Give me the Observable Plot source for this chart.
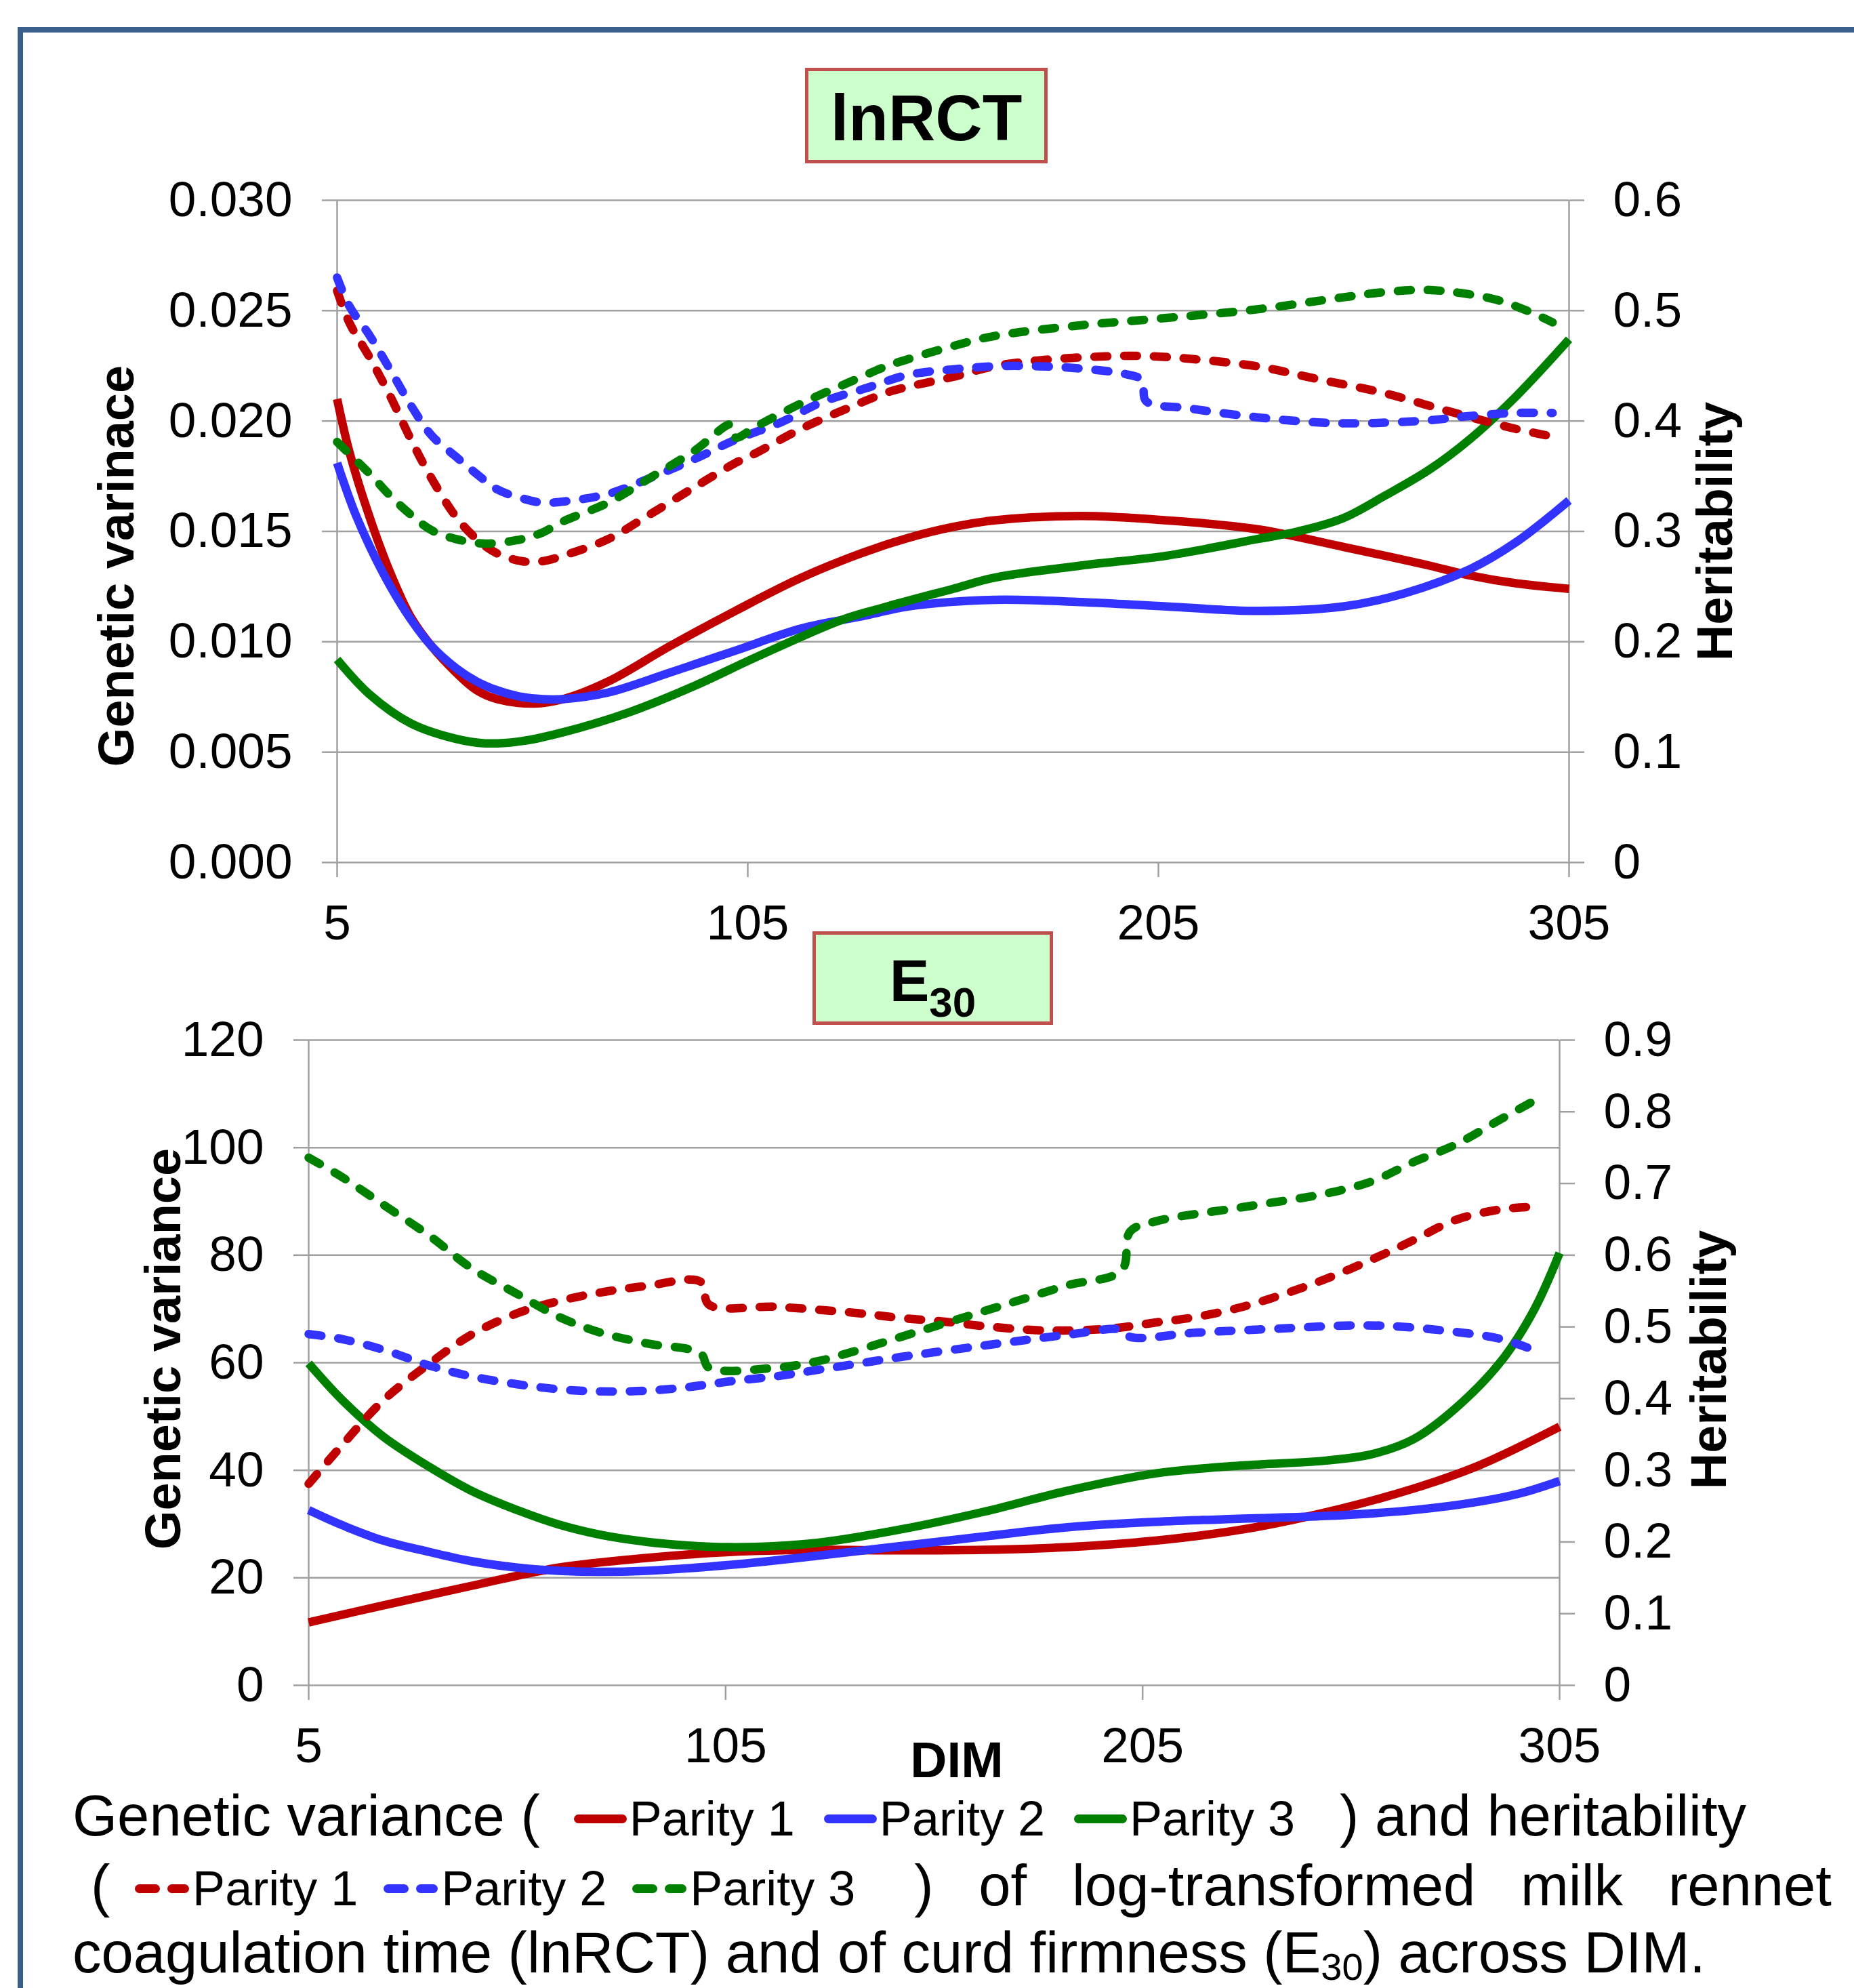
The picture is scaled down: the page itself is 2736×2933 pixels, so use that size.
<!DOCTYPE html>
<html>
<head>
<meta charset="utf-8">
<script src="https://cdn.jsdelivr.net/npm/d3@7"></script>
<script src="https://cdn.jsdelivr.net/npm/@observablehq/plot@0.6"></script>
<style>
html,body{margin:0;padding:0;background:#fff;}
body{width:2736px;height:2933px;position:relative;overflow:hidden;font-family:"Liberation Sans",Arial,sans-serif;color:#000;}
.frame{position:absolute;left:26px;top:40px;width:3000px;height:3000px;border-top:8px solid #3A5F8C;border-left:8px solid #3A5F8C;}
.tbox{position:absolute;box-sizing:border-box;border:5px solid #C0504D;background:#CCFFCC;z-index:2;}
.tbox .t{position:absolute;left:0;right:0;text-align:center;font-weight:bold;white-space:nowrap;}
.cap{position:absolute;font-size:85px;line-height:85px;white-space:nowrap;z-index:2;}
.lt{font-size:72px;}
.sw{vertical-align:18px;}
.dim{position:absolute;left:1212px;width:400px;top:2559px;text-align:center;font-weight:bold;font-size:75px;line-height:75px;z-index:2;}
</style>
</head>
<body>
<div class="frame"></div>
<div class="tbox" style="left:1188px;top:100px;width:358px;height:141px;"><div class="t" style="top:21px;font-size:96px;line-height:96px;">lnRCT</div></div>
<div class="tbox" style="left:1199px;top:1374px;width:355px;height:138px;"><div class="t" style="top:24px;font-size:88px;line-height:88px;">E<span style="font-size:62px;position:relative;top:23px;">30</span></div></div>
<div class="dim">DIM</div>
<div class="cap" id="cap1" style="left:107px;top:2636px;"></div>
<div class="cap" id="cap2" style="left:134px;top:2739px;width:2569px;display:flex;justify-content:space-between;align-items:baseline;"></div>
<div class="cap" id="cap3" style="left:107px;top:2838px;">coagulation time (lnRCT) and of curd firmness (E<sub style="font-size:56px;line-height:0;vertical-align:-11px;">30</sub>) across DIM.</div>
<script>
// ---------- data ----------
const dimTicks = [5, 105, 205, 305];
const rctGvTicks = [0, 0.005, 0.010, 0.015, 0.020, 0.025, 0.030];
const rctHTicks = [0, 0.1, 0.2, 0.3, 0.4, 0.5, 0.6];
const e30GvTicks = [0, 20, 40, 60, 80, 100, 120];
const e30HTicks = [0, 0.1, 0.2, 0.3, 0.4, 0.5, 0.6, 0.7, 0.8, 0.9];
const parities = ["Parity 1", "Parity 2", "Parity 3"];

// lnRCT genetic variance [DIM, value]
const rctGV1 = [[5,0.0210],[8,0.0186],[13,0.0156],[18,0.0131],[23,0.0111],[28,0.0098],[34,0.0086],[39,0.0078],[44,0.0074],[53,0.0072],[60,0.0074],[71,0.0082],[86,0.0098],[102,0.0114],[118,0.0129],[134,0.0141],[144,0.0147],[155,0.0152],[165,0.0155],[186,0.0157],[207,0.0155],[229,0.0151],[250,0.0143],[271,0.01345],[281,0.0130],[292,0.01265],[305,0.0124]];
const rctGV2 = [[5,0.0181],[9,0.0160],[13,0.0143],[18,0.0125],[23,0.0110],[28,0.0098],[34,0.0088],[39,0.0082],[44,0.0078],[50,0.0075],[55,0.0074],[60,0.0074],[71,0.0077],[86,0.0086],[102,0.0096],[118,0.0106],[134,0.0112],[144,0.0116],[165,0.0119],[186,0.0118],[207,0.0116],[229,0.0114],[250,0.0116],[265,0.0122],[281,0.0133],[292,0.0145],[305,0.0164]];
const rctGV3 = [[5,0.0092],[13,0.0076],[23,0.0063],[34,0.0056],[41,0.0054],[50,0.0055],[60,0.0059],[76,0.0068],[92,0.0080],[107,0.0093],[128,0.0110],[139,0.0116],[155,0.0124],[165,0.0129],[186,0.01345],[207,0.0139],[229,0.01465],[239,0.0150],[250,0.0156],[260,0.0166],[271,0.0178],[281,0.0192],[292,0.0211],[305,0.0237]];
// lnRCT heritability
const rctH1 = [[5,0.518],[8,0.489],[13,0.457],[18,0.422],[23,0.383],[28,0.348],[34,0.313],[39,0.293],[44,0.280],[50,0.273],[55,0.273],[60,0.278],[71,0.293],[81,0.315],[92,0.340],[102,0.362],[107,0.371],[118,0.393],[129,0.411],[139,0.426],[144,0.431],[155,0.440],[165,0.4496],[176,0.455],[192,0.4586],[201,0.459],[212,0.4566],[229,0.4496],[244,0.4378],[260,0.4253],[276,0.4085],[292,0.3929],[301,0.386]];
const rctH2 = [[5,0.530],[8,0.504],[13,0.477],[18,0.446],[23,0.414],[28,0.387],[34,0.3675],[39,0.352],[44,0.338],[50,0.330],[55,0.326],[60,0.327],[71,0.334],[81,0.348],[92,0.3655],[102,0.383],[113,0.3987],[123,0.417],[134,0.430],[144,0.4418],[155,0.4468],[165,0.4496],[176,0.4496],[186,0.4476],[197,0.4425],[201,0.437],[202,0.418],[212,0.4117],[229,0.4034],[244,0.3987],[255,0.398],[271,0.4007],[281,0.4046],[292,0.4073],[301,0.4073]];
const rctH3 = [[5,0.381],[13,0.352],[18,0.332],[23,0.315],[28,0.301],[34,0.293],[41,0.289],[50,0.293],[55,0.299],[60,0.309],[71,0.326],[81,0.348],[92,0.373],[101,0.397],[102,0.385],[107,0.395],[118,0.416],[129,0.434],[139,0.450],[144,0.456],[155,0.468],[165,0.477],[186,0.4867],[207,0.4934],[229,0.5012],[250,0.5121],[260,0.5168],[269,0.5188],[276,0.5172],[287,0.5102],[295,0.4996],[301,0.4894]];
// E30 genetic variance
const e30GV1 = [[5,11.7],[23,14.9],[44,18.5],[65,21.9],[86,23.7],[106,24.8],[127,25.2],[146,25.1],[167,25.2],[187,25.7],[208,26.9],[229,29.0],[249,32.2],[270,36.6],[286,41.0],[305,48.1]];
const e30GV2 = [[5,32.6],[13,29.8],[23,26.9],[34,24.8],[44,23.1],[55,21.9],[65,21.3],[75,21.1],[86,21.3],[106,22.4],[127,24.1],[147,25.9],[167,27.7],[187,29.4],[208,30.4],[229,31.0],[249,31.5],[270,32.6],[286,34.2],[296,35.8],[305,38.0]];
const e30GV3 = [[5,59.9],[13,53.1],[23,46.2],[34,40.6],[44,36.2],[55,32.6],[65,29.9],[75,28.0],[86,26.7],[96,26.0],[106,25.7],[117,25.9],[127,26.5],[147,29.0],[167,32.3],[187,36.2],[208,39.4],[229,40.9],[249,41.8],[260,43.0],[270,45.8],[280,51.5],[291,60.3],[299,70.0],[305,80.4]];
// E30 heritability
const e30H1 = [[5,0.281],[13,0.335],[23,0.398],[34,0.449],[44,0.489],[55,0.519],[65,0.536],[75,0.548],[86,0.557],[99,0.563],[101,0.531],[117,0.528],[137,0.519],[146,0.513],[158,0.507],[167,0.501],[182,0.495],[198,0.498],[208,0.506],[218,0.514],[229,0.528],[239,0.546],[249,0.567],[260,0.594],[270,0.621],[280,0.649],[291,0.664],[301,0.668]];
const e30H2 = [[5,0.490],[13,0.483],[23,0.468],[34,0.446],[44,0.431],[55,0.420],[65,0.413],[75,0.410],[86,0.411],[96,0.416],[106,0.424],[117,0.431],[127,0.440],[137,0.449],[147,0.458],[167,0.474],[187,0.489],[200,0.496],[202,0.486],[218,0.492],[239,0.498],[255,0.502],[265,0.501],[280,0.493],[291,0.483],[301,0.463]];
const e30H3 = [[5,0.736],[13,0.709],[23,0.670],[34,0.627],[44,0.582],[55,0.546],[65,0.514],[75,0.492],[86,0.477],[99,0.463],[101,0.443],[117,0.443],[127,0.452],[137,0.468],[147,0.486],[167,0.522],[177,0.540],[187,0.558],[200,0.579],[202,0.633],[208,0.647],[229,0.667],[249,0.686],[260,0.703],[270,0.730],[280,0.754],[291,0.790],[301,0.822]];

// ---------- styles ----------
const RED = "#C00000", BLUE = "#3333FF", GREEN = "#008000", GRID = "#A0A0A0";
const COLORS = [RED, BLUE, GREEN];
const FONT = "'Liberation Sans', Arial, sans-serif";
const LW = 12.5, DASH = "19,25";
const hFmt = v => { const r = Math.round(v * 10) / 10; return r === 0 ? "0" : String(r); };

function panel({width, height, mLeft, mRight, mTop, mBottom, yMax, gvTicks, hTicks, hMax, gvFmt, gv, h}) {
  const K = yMax / hMax;
  const axisStyle = {stroke: GRID, strokeOpacity: 1, strokeWidth: 2.5, fill: "black", fontSize: 73, label: null, tickSize: 22};
  const marks = [
    Plot.gridY({ticks: gvTicks, stroke: GRID, strokeOpacity: 1, strokeWidth: 2.5}),
    Plot.ruleX([5, 305], {stroke: GRID, strokeWidth: 2.5}),
    Plot.axisY({...axisStyle, ticks: gvTicks, anchor: "left", tickPadding: 44, tickFormat: gvFmt}),
    Plot.axisY({...axisStyle, ticks: hTicks.map(t => t * K), anchor: "right", tickPadding: 43, tickFormat: d => hFmt(d / K)}),
    Plot.axisX({...axisStyle, ticks: dimTicks, tickPadding: 40})
  ];
  gv.forEach((s, i) => marks.push(Plot.line(s, {x: d => d[0], y: d => d[1], stroke: COLORS[i], strokeWidth: LW, curve: "catmull-rom", strokeLinecap: "butt"})));
  h.forEach((s, i) => marks.push(Plot.line(s, {x: d => d[0], y: d => d[1] * K, stroke: COLORS[i], strokeWidth: LW, curve: "catmull-rom", strokeDasharray: DASH, strokeLinecap: "round"})));
  return Plot.plot({
    width, height,
    marginLeft: mLeft, marginRight: mRight, marginTop: mTop, marginBottom: mBottom,
    x: {domain: [5, 305], axis: null},
    y: {domain: [0, yMax], axis: null},
    style: {fontFamily: FONT, fontSize: "73px", background: "transparent", color: "black", overflow: "visible"},
    marks
  });
}

function addTitle(svg, text, bx, cy) {
  d3.select(svg).append("text")
    .attr("transform", `translate(${bx},${cy}) rotate(-90)`)
    .attr("text-anchor", "middle")
    .attr("font-family", FONT).attr("font-weight", "bold").attr("font-size", 74)
    .attr("fill", "black").text(text);
}

// Top: lnRCT
const top0 = 250;
const topSvg = panel({width: 2736, height: 1170, mLeft: 497, mRight: 421, mTop: 45, mBottom: 148,
  yMax: 0.030, gvTicks: rctGvTicks, hTicks: rctHTicks, hMax: 0.6, gvFmt: d3.format(".3f"),
  gv: [rctGV1, rctGV2, rctGV3], h: [rctH1, rctH2, rctH3]});
addTitle(topSvg, "Genetic varinace", 197, 835 - top0);
addTitle(topSvg, "Heritability", 2556, 784 - top0);
Object.assign(topSvg.style, {position: "absolute", left: "0px", top: top0 + "px", maxWidth: "none", zIndex: 1});
document.body.appendChild(topSvg);

// Bottom: E30
const bot0 = 1420;
const botSvg = panel({width: 2736, height: 1230, mLeft: 455, mRight: 435, mTop: 114, mBottom: 164,
  yMax: 120, gvTicks: e30GvTicks, hTicks: e30HTicks, hMax: 0.9, gvFmt: d => String(d),
  gv: [e30GV1, e30GV2, e30GV3], h: [e30H1, e30H2, e30H3]});
addTitle(botSvg, "Genetic variance", 266, 1990 - bot0);
addTitle(botSvg, "Heritability", 2547, 2006 - bot0);
Object.assign(botSvg.style, {position: "absolute", left: "0px", top: bot0 + "px", maxWidth: "none", zIndex: 1});
document.body.appendChild(botSvg);

// ---------- caption with inline legend ----------
const NS = "http://www.w3.org/2000/svg";
function swatch(color, dashed) {
  const s = document.createElementNS(NS, "svg");
  s.setAttribute("class", "sw");
  const w = dashed ? 80 : 78;
  s.setAttribute("width", w); s.setAttribute("height", 13);
  const parts = dashed ? [[0, 37], [48, 32]] : [[0, 78]];
  for (const [x, len] of parts) {
    const r = document.createElementNS(NS, "rect");
    r.setAttribute("x", x); r.setAttribute("y", 0);
    r.setAttribute("width", len); r.setAttribute("height", 13);
    r.setAttribute("rx", 6.5); r.setAttribute("fill", color);
    s.appendChild(r);
  }
  return s;
}
function legendGroup(dashed, gap, labelGap) {
  const g = document.createElement("span");
  parities.forEach((p, i) => {
    const sw = swatch(COLORS[i], dashed);
    if (i > 0) sw.style.marginLeft = gap + "px";
    g.appendChild(sw);
    const t = document.createElement("span");
    t.className = "lt"; t.textContent = p; t.style.marginLeft = labelGap + "px";
    g.appendChild(t);
  });
  return g;
}
function span(text, style) {
  const e = document.createElement("span");
  e.textContent = text;
  if (style) Object.assign(e.style, style);
  return e;
}
const cap1 = document.getElementById("cap1");
cap1.appendChild(span("Genetic variance ("));
const lg1 = legendGroup(false, 43, 4); lg1.style.marginLeft = "50px";
cap1.appendChild(lg1);
cap1.appendChild(span(") and heritability", {marginLeft: "66px"}));

const cap2 = document.getElementById("cap2");
cap2.appendChild(span("("));
const lg2 = legendGroup(true, 38, 5); lg2.style.marginLeft = "-30px"; lg2.style.marginRight = "20px";
cap2.appendChild(lg2);
for (const w of [")", "of", "log-transformed", "milk", "rennet"]) cap2.appendChild(span(w));
</script>
</body>
</html>
